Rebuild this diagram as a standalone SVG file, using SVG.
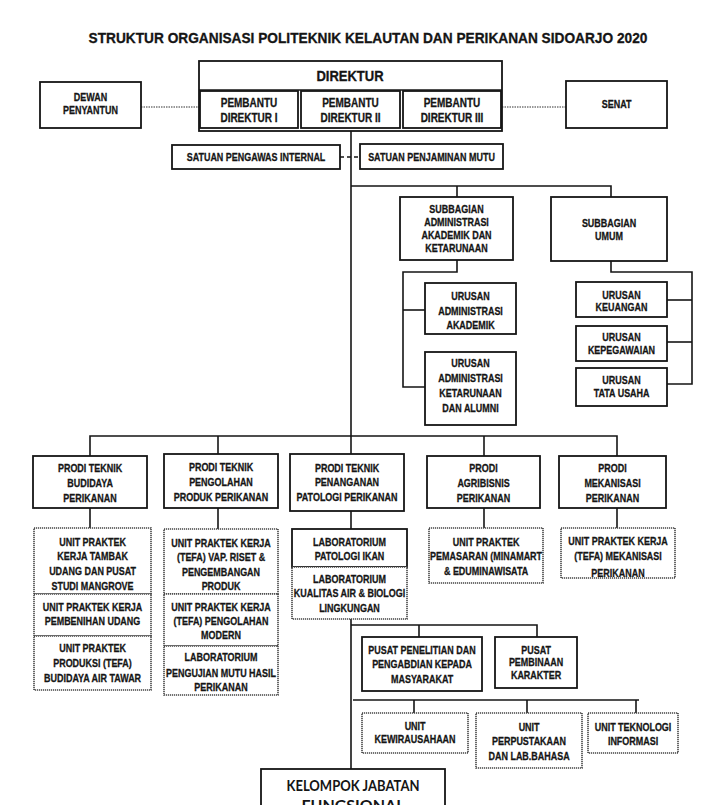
<svg xmlns="http://www.w3.org/2000/svg" width="726" height="805" viewBox="0 0 726 805">
<style>
.bx{fill:#fff;stroke:#151515;stroke-width:1.8}
.dt{fill:#fff;stroke:#444;stroke-width:1.6;stroke-dasharray:1.2 0.8}
.ln{fill:none;stroke:#151515;stroke-width:1.6}
.dl{fill:none;stroke:#333;stroke-width:1.2;stroke-dasharray:1.5 1}
.dsh{fill:none;stroke:#151515;stroke-width:1.4;stroke-dasharray:4 3}
text{font-family:"Liberation Sans",Arial,sans-serif;font-weight:bold;font-size:11.5px;text-anchor:middle;fill:#151515;stroke:#151515;stroke-width:0.3;transform-box:fill-box;transform-origin:center;transform:scaleX(0.78)}
.tt{font-size:14.5px;transform:scaleX(0.945)}
.big{font-size:14px;transform:scaleX(0.93)}
.md{font-size:12.5px;transform:scaleX(0.8)}
.kj{font-family:Lato,"Liberation Sans",sans-serif;font-size:16px;stroke-width:0;transform:none}
</style>
<defs>
<clipPath id="c5"><rect x="561" y="528" width="114" height="49"/></clipPath>
</defs>
<rect width="726" height="805" fill="#fff"/>
<text class="tt" x="368" y="43">STRUKTUR ORGANISASI POLITEKNIK KELAUTAN DAN PERIKANAN SIDOARJO 2020</text>

<g id="connectors">
<line class="dl" x1="141" y1="107" x2="199" y2="107"/>
<line class="dl" x1="502" y1="107" x2="566" y2="107"/>
<line class="dsh" x1="340" y1="157" x2="360" y2="157"/>
<line class="ln" x1="351" y1="131" x2="351" y2="769"/>
<polyline class="ln" points="351,186 611,186 611,197"/>
<line class="ln" x1="457" y1="186" x2="457" y2="197"/>
<polyline class="ln" points="457,260 457,272 403,272 403,387 425,387"/>
<line class="ln" x1="403" y1="310" x2="425" y2="310"/>
<polyline class="ln" points="611,261 611,272 692,272 692,384 667,384"/>
<line class="ln" x1="667" y1="300" x2="692" y2="300"/>
<line class="ln" x1="667" y1="342" x2="692" y2="342"/>
<polyline class="ln" points="90,456 90,436 617,436 617,456"/>
<line class="ln" x1="218" y1="436" x2="218" y2="454"/>
<line class="ln" x1="484" y1="436" x2="484" y2="456"/>
<line class="ln" x1="90" y1="508" x2="90" y2="528"/>
<line class="ln" x1="218" y1="508" x2="218" y2="529"/>
<line class="ln" x1="484" y1="508" x2="484" y2="528"/>
<line class="ln" x1="617" y1="508" x2="617" y2="528"/>
<polyline class="ln" points="351,625 537,625 537,637"/>
<line class="ln" x1="419" y1="625" x2="419" y2="637"/>
<line class="ln" x1="353" y1="700" x2="639" y2="700"/>
<line class="ln" x1="414" y1="700" x2="414" y2="713"/>
<line class="ln" x1="527" y1="700" x2="527" y2="713"/>
<line class="ln" x1="636" y1="700" x2="636" y2="713"/>
</g>

<g id="dewan">
<rect class="bx" x="40" y="82" width="101" height="46"/>
<text x="90.5" y="101">DEWAN</text>
<text x="90.5" y="114">PENYANTUN</text>
</g>

<g id="direktur">
<rect class="bx" x="199" y="61" width="303" height="70"/>
<line class="ln" x1="199" y1="90" x2="502" y2="90"/>
<text class="big" x="350" y="81">DIREKTUR</text>
</g>
<g id="pd1">
<rect class="bx" x="200" y="91" width="98" height="37"/>
<text class="md" x="249" y="107">PEMBANTU</text>
<text class="md" x="249" y="122">DIREKTUR I</text>
</g>
<g id="pd2">
<rect class="bx" x="301" y="91" width="99" height="37"/>
<text class="md" x="350.5" y="107">PEMBANTU</text>
<text class="md" x="350.5" y="122">DIREKTUR II</text>
</g>
<g id="pd3">
<rect class="bx" x="403" y="91" width="98" height="37"/>
<text class="md" x="452" y="107">PEMBANTU</text>
<text class="md" x="452" y="122">DIREKTUR III</text>
</g>

<g id="senat">
<rect class="bx" x="566" y="81" width="101" height="47"/>
<text x="616.5" y="108">SENAT</text>
</g>

<g id="spi">
<rect class="bx" x="172" y="145" width="168" height="24"/>
<text x="256" y="161">SATUAN PENGAWAS INTERNAL</text>
</g>
<g id="spm">
<rect class="bx" x="360" y="144" width="143" height="25"/>
<text x="431.5" y="161">SATUAN PENJAMINAN MUTU</text>
</g>

<g id="sub-aak">
<rect class="bx" x="400" y="197" width="113" height="63"/>
<text x="456.5" y="213">SUBBAGIAN</text>
<text x="456.5" y="226">ADMINISTRASI</text>
<text x="456.5" y="239">AKADEMIK DAN</text>
<text x="456.5" y="252">KETARUNAAN</text>
</g>
<g id="sub-umum">
<rect class="bx" x="551" y="197" width="116" height="64"/>
<text x="609" y="227">SUBBAGIAN</text>
<text x="609" y="240">UMUM</text>
</g>

<g id="ur-akademik">
<rect class="bx" x="425" y="283" width="91" height="51"/>
<text x="470.5" y="300">URUSAN</text>
<text x="470.5" y="315">ADMINISTRASI</text>
<text x="470.5" y="329">AKADEMIK</text>
</g>
<g id="ur-ketarunaan">
<rect class="bx" x="425" y="352" width="91" height="73"/>
<text x="470.5" y="367">URUSAN</text>
<text x="470.5" y="382">ADMINISTRASI</text>
<text x="470.5" y="397">KETARUNAAN</text>
<text x="470.5" y="412">DAN ALUMNI</text>
</g>

<g id="ur-keuangan">
<rect class="bx" x="576" y="282" width="91" height="35"/>
<text x="621.5" y="299">URUSAN</text>
<text x="621.5" y="311">KEUANGAN</text>
</g>
<g id="ur-kepegawaian">
<rect class="bx" x="576" y="326" width="91" height="35"/>
<text x="621.5" y="341">URUSAN</text>
<text x="621.5" y="354">KEPEGAWAIAN</text>
</g>
<g id="ur-tatausaha">
<rect class="bx" x="576" y="368" width="91" height="38"/>
<text x="621.5" y="384">URUSAN</text>
<text x="621.5" y="397">TATA USAHA</text>
</g>

<g id="prodi-budidaya">
<rect class="bx" x="33" y="456" width="114" height="52"/>
<text x="90" y="472">PRODI TEKNIK</text>
<text x="90" y="487">BUDIDAYA</text>
<text x="90" y="502">PERIKANAN</text>
</g>
<g id="prodi-pengolahan">
<rect class="bx" x="164" y="454" width="114" height="54"/>
<text x="221" y="471">PRODI TEKNIK</text>
<text x="221" y="486">PENGOLAHAN</text>
<text x="221" y="501">PRODUK  PERIKANAN</text>
</g>
<g id="prodi-patologi">
<rect class="bx" x="290" y="454" width="114" height="57"/>
<text x="347" y="472">PRODI  TEKNIK</text>
<text x="347" y="486">PENANGANAN</text>
<text x="347" y="501">PATOLOGI PERIKANAN</text>
</g>
<g id="prodi-agribisnis">
<rect class="bx" x="427" y="456" width="113" height="52"/>
<text x="483.5" y="472">PRODI</text>
<text x="483.5" y="487">AGRIBISNIS</text>
<text x="483.5" y="502">PERIKANAN</text>
</g>
<g id="prodi-mekanisasi">
<rect class="bx" x="559" y="456" width="107" height="52"/>
<text x="612.5" y="472">PRODI</text>
<text x="612.5" y="487">MEKANISASI</text>
<text x="612.5" y="502">PERIKANAN</text>
</g>

<g id="unit-tambak">
<rect class="dt" x="34" y="528" width="117" height="66"/>
<text x="92.5" y="546">UNIT PRAKTEK</text>
<text x="92.5" y="560">KERJA TAMBAK</text>
<text x="92.5" y="575">UDANG DAN PUSAT</text>
<text x="92.5" y="590">STUDI MANGROVE</text>
</g>
<g id="unit-pembenihan">
<rect class="dt" x="34" y="594" width="117" height="42"/>
<text x="92.5" y="611">UNIT PRAKTEK KERJA</text>
<text x="92.5" y="625">PEMBENIHAN UDANG</text>
</g>
<g id="unit-airtawar">
<rect class="dt" x="34" y="636" width="117" height="54"/>
<text x="92.5" y="652">UNIT PRAKTEK</text>
<text x="92.5" y="667">PRODUKSI (TEFA)</text>
<text x="92.5" y="682">BUDIDAYA AIR TAWAR</text>
</g>

<g id="unit-vap">
<rect class="dt" x="164" y="529" width="114" height="65"/>
<text x="221" y="547">UNIT PRAKTEK KERJA</text>
<text x="221" y="561">(TEFA) VAP. RISET &amp;</text>
<text x="221" y="576">PENGEMBANGAN</text>
<text x="221" y="590">PRODUK</text>
</g>
<g id="unit-pengolahan">
<rect class="dt" x="164" y="594" width="114" height="52"/>
<text x="221" y="611">UNIT PRAKTEK KERJA</text>
<text x="221" y="625">(TEFA) PENGOLAHAN</text>
<text x="221" y="639">MODERN</text>
</g>
<g id="lab-mutu">
<rect class="dt" x="164" y="646" width="114" height="49"/>
<text x="221" y="661">LABORATORIUM</text>
<text x="221" y="677">PENGUJIAN MUTU HASIL</text>
<text x="221" y="691">PERIKANAN</text>
</g>

<g id="lab-patologi">
<rect class="bx" x="292" y="529" width="115" height="38"/>
<text x="349.5" y="546">LABORATORIUM</text>
<text x="349.5" y="560">PATOLOGI IKAN</text>
</g>
<g id="lab-kualitas">
<rect class="dt" x="292" y="567" width="115" height="52"/>
<text x="349.5" y="583">LABORATORIUM</text>
<text x="349.5" y="597">KUALITAS AIR &amp; BIOLOGI</text>
<text x="349.5" y="612">LINGKUNGAN</text>
</g>

<g id="unit-pemasaran">
<rect class="dt" x="429" y="528" width="114" height="55"/>
<text x="486" y="546">UNIT PRAKTEK</text>
<text x="486" y="560">PEMASARAN (MINAMART</text>
<text x="486" y="575">&amp; EDUMINAWISATA</text>
</g>
<g id="unit-mekanisasi">
<rect class="dt" x="561" y="528" width="114" height="50"/>
<text x="618" y="545">UNIT PRAKTEK KERJA</text>
<text x="618" y="560">(TEFA) MEKANISASI</text>
<g clip-path="url(#c5)"><text x="618" y="577">PERIKANAN</text></g>
</g>

<g id="pusat-penelitian">
<rect class="bx" x="362" y="637" width="120" height="54"/>
<text x="422" y="654">PUSAT PENELITIAN DAN</text>
<text x="422" y="668">PENGABDIAN KEPADA</text>
<text x="422" y="683">MASYARAKAT</text>
</g>
<g id="pusat-karakter">
<rect class="bx" x="495" y="637" width="82" height="51"/>
<text x="536" y="654">PUSAT</text>
<text x="536" y="666">PEMBINAAN</text>
<text x="536" y="679">KARAKTER</text>
</g>

<g id="unit-kewirausahaan">
<rect class="dt" x="362" y="713" width="106" height="40"/>
<text x="415" y="730">UNIT</text>
<text x="415" y="743">KEWIRAUSAHAAN</text>
</g>
<g id="unit-perpustakaan">
<rect class="dt" x="476" y="713" width="106" height="55"/>
<text x="529" y="731">UNIT</text>
<text x="529" y="745">PERPUSTAKAAN</text>
<text x="529" y="760">DAN LAB.BAHASA</text>
</g>
<g id="unit-ti">
<rect class="dt" x="588" y="713" width="90" height="40"/>
<text x="633" y="731">UNIT TEKNOLOGI</text>
<text x="633" y="745">INFORMASI</text>
</g>

<g id="kelompok">
<rect class="bx" x="261" y="769" width="184" height="50"/>
<text class="kj" x="353" y="791" textLength="133" lengthAdjust="spacingAndGlyphs">KELOMPOK JABATAN</text>
<text class="kj" x="353" y="811">FUNGSIONAL</text>
</g>
</svg>
